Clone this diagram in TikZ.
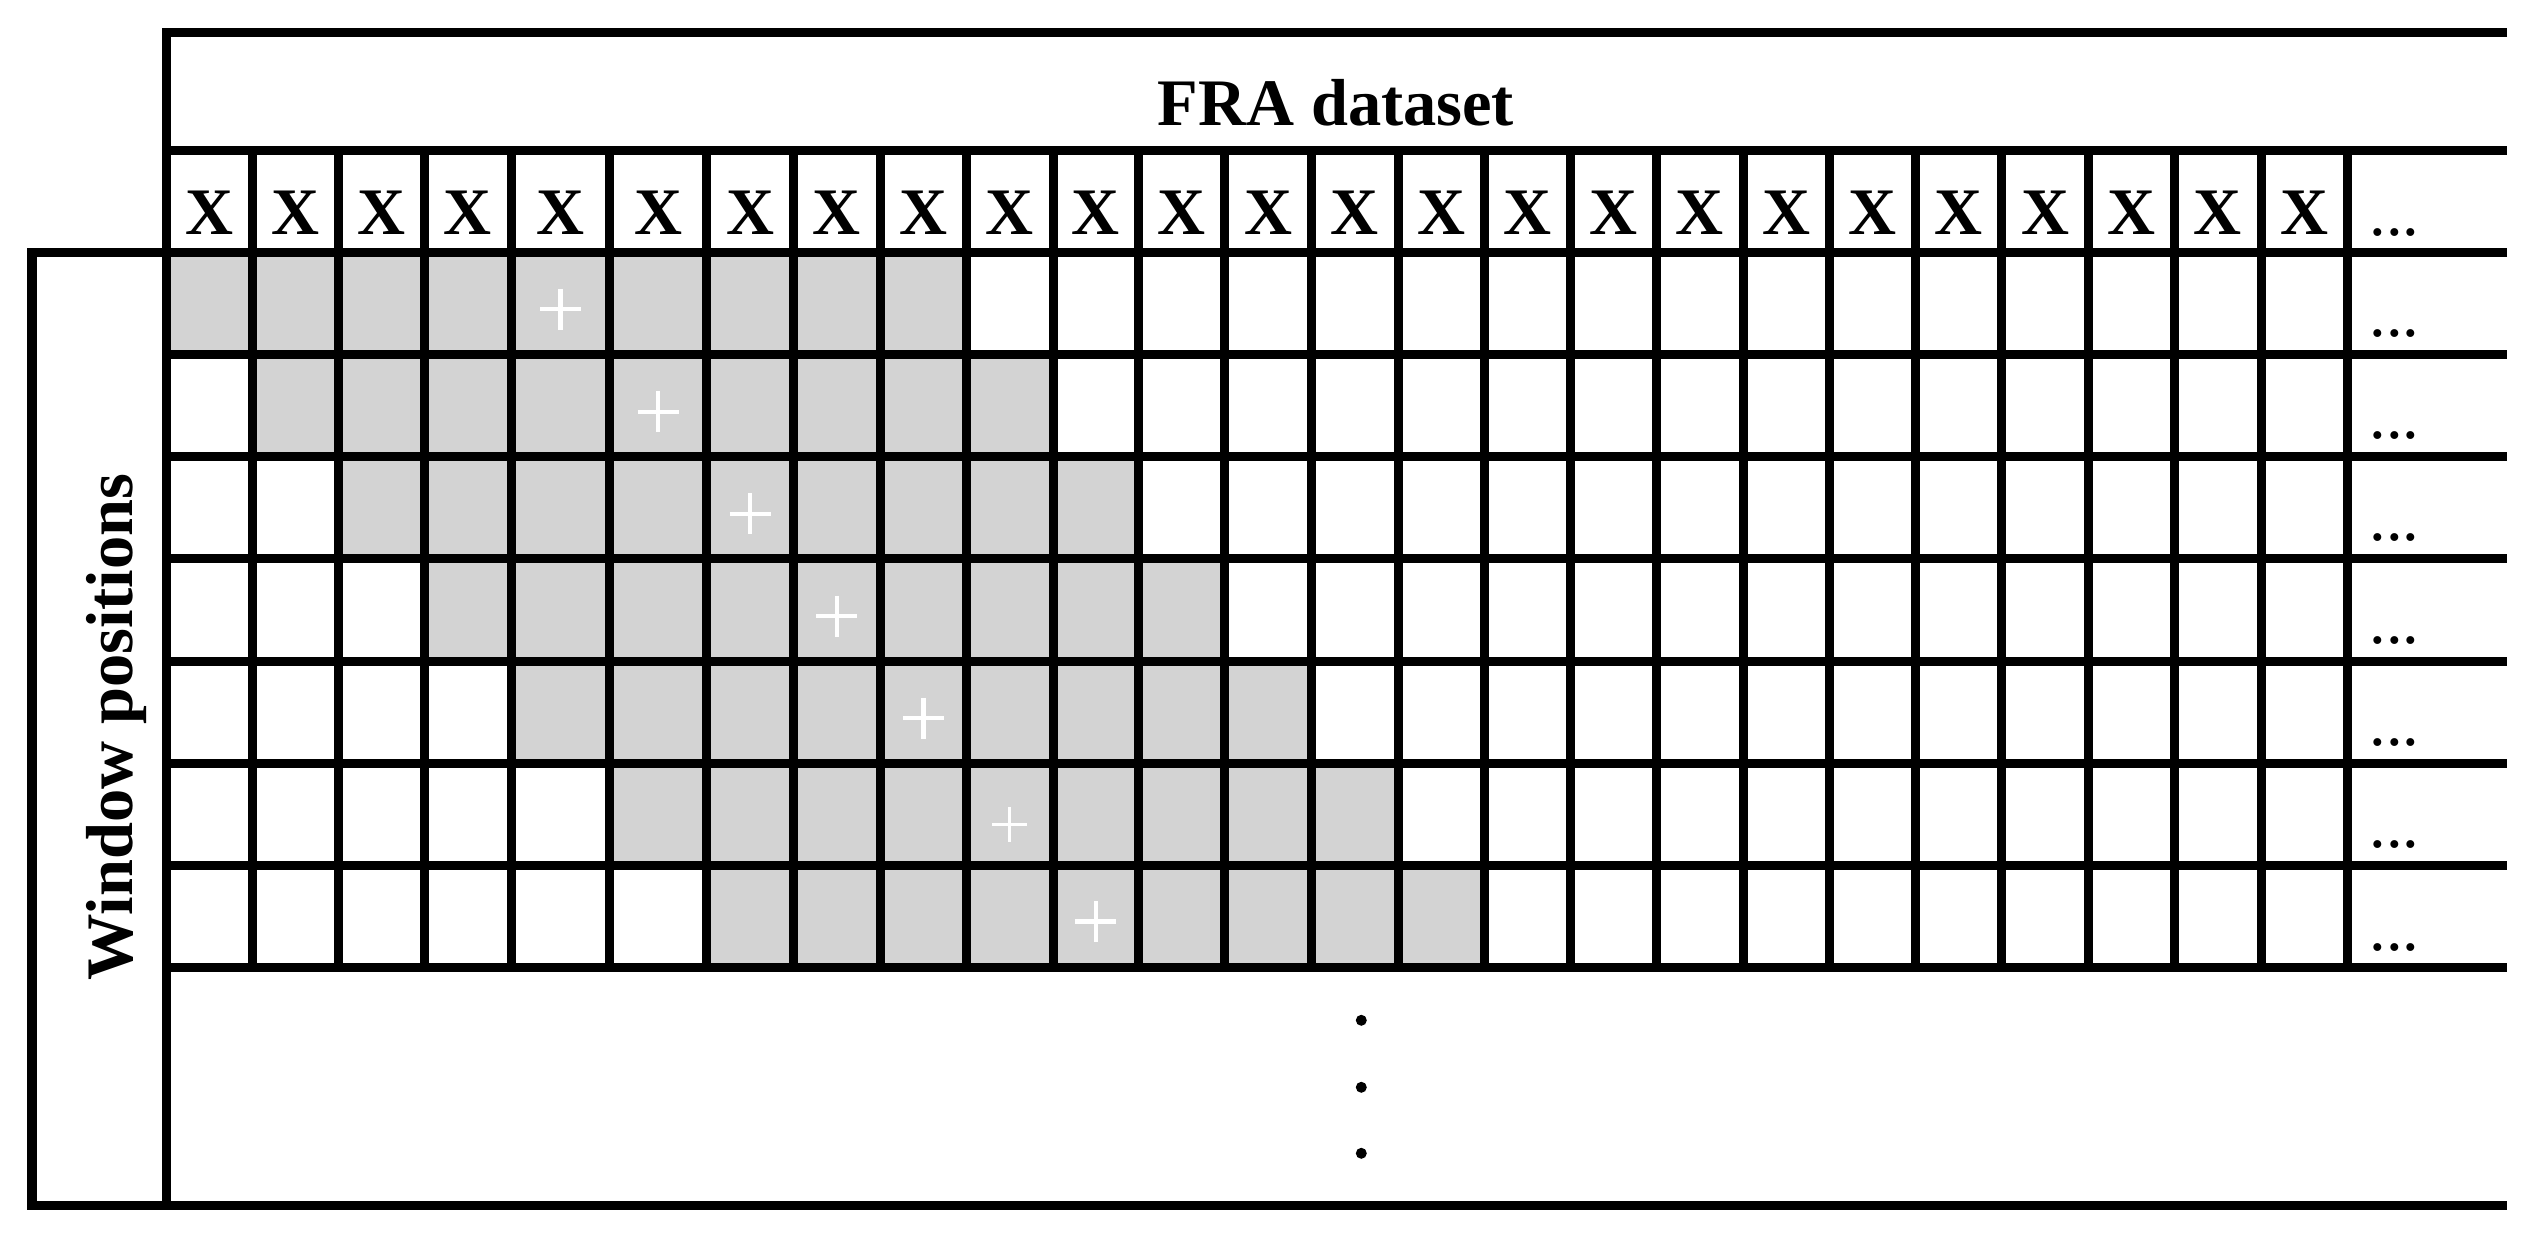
\documentclass[tikz,border=0pt]{standalone}
\usepackage{fontspec}
\setmainfont{Liberation Serif}
\definecolor{cellgray}{RGB}{211,211,211}
\begin{document}
\begin{tikzpicture}[x=0.01cm,y=-0.01cm,
  gridline/.style={line width=0.09cm, line join=miter},
  lbl/.style={font=\fontsize{18.9}{22}\selectfont\bfseries, inner sep=0pt, anchor=base},
  dotslbl/.style={font=\fontsize{18.9}{22}\selectfont, inner sep=0pt, anchor=base west},
  vdot/.style={circle, fill=black, inner sep=0pt, minimum size=0.11cm},
  plusline/.style={white, line width=#1},
]
\useasboundingbox (0,0) rectangle (2542,1240);
% column boundaries
\foreach \v [count=\i] in {166.5,252.7,338.4,424.5,511.4,609.4,706.9,793.5,880.4,966.5,1053.1,1138.4,1224.9,1311.4,1398.0,1484.5,1570.6,1656.3,1743.3,1829.4,1915.5,2001.9,2088.8,2174.5,2261.4,2347.2}
  \coordinate (c\i) at (\v,0);
% row boundaries
\foreach \v [count=\i] in {252.7,354.8,456.9,559.0,661.1,763.2,865.3,967.3}
  \coordinate (r\i) at (0,\v);
\coordinate (t) at (0,151);
\coordinate (e) at (2507,0);
\coordinate (xb) at (0,235);
% gray windows
\foreach \r in {1,...,7}{
  \pgfmathtruncatemacro\cb{\r+9}
  \pgfmathtruncatemacro\rb{\r+1}
  \fill[cellgray] (c\r |- r\r) rectangle (c\cb |- r\rb);
}
% window centre markers
\foreach \r/\h/\dy/\w in {1/20.5/5.5/0.045cm,2/20.5/6/0.045cm,3/20.5/6/0.045cm,4/20.5/6/0.045cm,5/20.5/6/0.045cm,6/17.5/10/0.03cm,7/20.5/5/0.045cm}{
  \pgfmathtruncatemacro\p{\r+4}
  \pgfmathtruncatemacro\q{\r+5}
  \pgfmathtruncatemacro\rb{\r+1}
  \path (c\p |- r\r) -- (c\q |- r\rb) coordinate[pos=0.5] (m\r);
  \draw[plusline=\w] ([shift={(-\h,\dy)}]m\r) -- ([shift={(\h,\dy)}]m\r);
  \draw[plusline=\w] ([shift={(0,\dy-\h)}]m\r) -- ([shift={(0,\dy+\h)}]m\r);
}
% X labels
\foreach \i in {1,...,25}{
  \pgfmathtruncatemacro\j{\i+1}
  \path (c\i) -- (c\j) coordinate[pos=0.5] (xm\i);
  \node[lbl] (x\i) at (xm\i |- xb) {X};
}
% titles
\node[lbl] (title) at (1336,126) {FRA dataset};
\node[lbl, rotate=90] (wpos) at (132,727) {Window positions};
% continuation dots
\foreach \b [count=\i from 0] in {235.5,337,439,541,643.5,745.5,847.5,950}
  \node[dotslbl] (d\i) at (2369,\b) {...};
\node[vdot] (v1) at (1361.3,1020.3) {};
\node[vdot] (v2) at (1361.3,1087.3) {};
\node[vdot] (v3) at (1361.3,1153.3) {};
% grid lines
\draw[gridline] (2507,33) -- (166.5,33) -- (166.5,1205);
\draw[gridline] (2507,252.7) -- (32,252.7) -- (32,1205) -- (2507,1205);
\draw[gridline] (c1 |- t) -- (e |- t);
\foreach \i in {2,...,8}
  \draw[gridline] (c1 |- r\i) -- (e |- r\i);
\foreach \i in {2,...,26}
  \draw[gridline] (c\i |- t) -- (c\i |- r8);
\end{tikzpicture}
\end{document}
